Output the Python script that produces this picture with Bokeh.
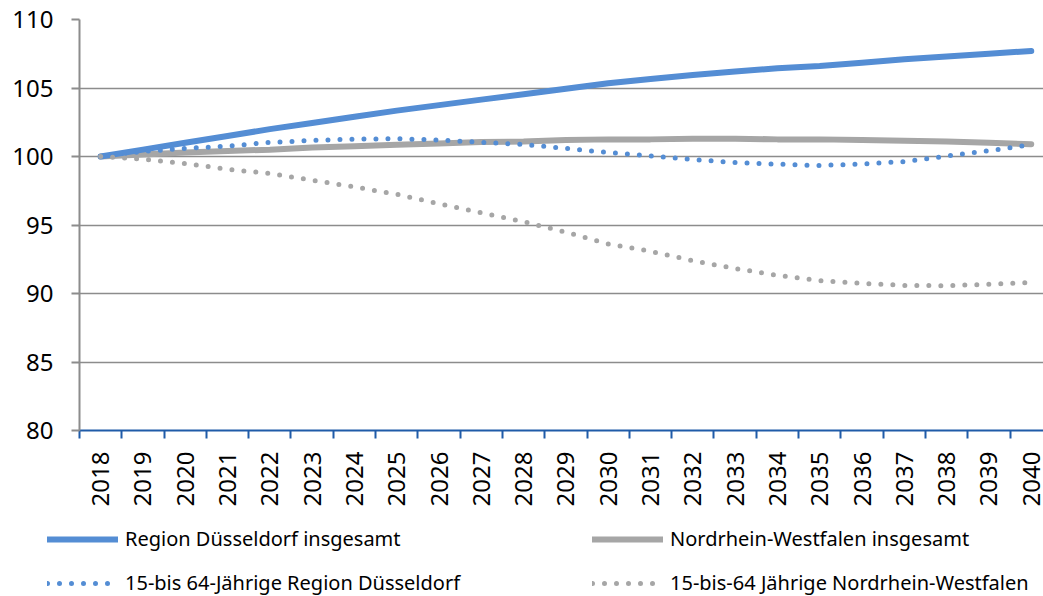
import math
from bokeh.plotting import figure
from bokeh.layouts import column
from bokeh.models import Range1d, FixedTicker, Legend, LegendItem
from bokeh.embed import file_html
from bokeh.resources import INLINE

years = [str(y) for y in range(2018, 2041)]
region_total = [100.0, 100.5, 101.0, 101.5, 102.0, 102.45, 102.9, 103.35, 103.75, 104.15, 104.55,
                104.95, 105.35, 105.65, 105.95, 106.2, 106.45, 106.6, 106.85, 107.1, 107.3, 107.5, 107.7]
nrw_total = [100.0, 100.15, 100.3, 100.4, 100.5, 100.65, 100.75, 100.85, 100.95, 101.05, 101.1,
             101.2, 101.25, 101.25, 101.3, 101.3, 101.25, 101.25, 101.2, 101.15, 101.1, 101.0, 100.9]
region_1564 = [100.0, 100.37, 100.59, 100.76, 101.03, 101.17, 101.27, 101.3, 101.2, 101.03, 100.88,
               100.59, 100.29, 100.05, 99.78, 99.56, 99.44, 99.34, 99.46, 99.63, 100.03, 100.42, 100.86]
nrw_1564 = [100.0, 99.81, 99.49, 99.07, 98.76, 98.27, 97.78, 97.24, 96.55, 95.9, 95.24,
            94.48, 93.62, 93.08, 92.4, 91.82, 91.33, 90.94, 90.74, 90.59, 90.57, 90.67, 90.8]
labels = ["Region Düsseldorf insgesamt", "Nordrhein-Westfalen insgesamt",
          "15-bis 64-Jährige Region Düsseldorf", "15-bis-64 Jährige Nordrhein-Westfalen"]
y_ticks = [80, 85, 90, 95, 100, 105, 110]

BLUE = "#548DD4"
GREY = "#A6A6A6"
FONT = "Noto Sans"

xs = list(range(len(years)))

styles = {
    "region_total": dict(line_color=BLUE, line_width=6, line_cap="round"),
    "nrw_total": dict(line_color=GREY, line_width=6, line_cap="round"),
    "region_1564": dict(line_color=BLUE, line_width=5, line_cap="round", line_dash="0 12"),
    "nrw_1564": dict(line_color=GREY, line_width=5, line_cap="round", line_dash="0 12"),
}

p = figure(width=1043, height=509, output_backend="svg", toolbar_location=None,
           x_range=Range1d(-0.5, 22.29), y_range=Range1d(80, 110),
           min_border_left=79, min_border_right=0, min_border_top=19, min_border_bottom=77)
p.outline_line_color = None
p.frame_align = False

p.line(xs, nrw_total, **styles["nrw_total"])
p.line(xs, region_total, **styles["region_total"])
p.line(xs, region_1564, **styles["region_1564"])
p.line(xs, nrw_1564, **styles["nrw_1564"])

# x axis
p.xaxis.ticker = FixedTicker(ticks=xs, minor_ticks=[i - 0.5 for i in range(len(years) + 1)])
p.xaxis.major_label_overrides = {i: y for i, y in enumerate(years)}
p.xaxis.major_label_orientation = math.pi / 2
p.xaxis.major_tick_out = 0
p.xaxis.major_tick_in = 0
p.xaxis.minor_tick_out = 8
p.xaxis.minor_tick_in = 0
p.xaxis.minor_tick_line_color = "#1F5BA8"
p.xaxis.minor_tick_line_width = 2
p.xaxis.axis_line_color = "#1F5BA8"
p.xaxis.axis_line_width = 2
p.xaxis.major_label_standoff = 13
p.xaxis.major_label_text_font = FONT
p.xaxis.major_label_text_font_size = "24px"
p.xaxis.major_label_text_color = "black"
p.xgrid.grid_line_color = None

# y axis
p.yaxis.ticker = FixedTicker(ticks=y_ticks)
p.yaxis.minor_tick_line_color = None
p.yaxis.major_tick_out = 8
p.yaxis.major_tick_in = 0
p.yaxis.major_tick_line_color = "#8C8C8C"
p.yaxis.major_tick_line_width = 2
p.yaxis.axis_line_color = "#8C8C8C"
p.yaxis.axis_line_width = 2
p.yaxis.major_label_standoff = 18
p.yaxis.major_label_text_font = FONT
p.yaxis.major_label_text_font_size = "24px"
p.yaxis.major_label_text_color = "black"
p.ygrid.grid_line_color = "#8C8C8C"
p.ygrid.grid_line_width = 1.5

# legend figure
lg = figure(width=1043, height=87, output_backend="svg", toolbar_location=None,
            x_range=Range1d(0, 1), y_range=Range1d(0, 1),
            x_axis_location=None, y_axis_location=None,
            min_border_left=0, min_border_right=0, min_border_top=0, min_border_bottom=0)
lg.frame_align = False
lg.outline_line_color = None
lg.xgrid.grid_line_color = None
lg.ygrid.grid_line_color = None
nan = float("nan")
d_rt = lg.line([0, 1], [nan, nan], **styles["region_total"])
d_nt = lg.line([0, 1], [nan, nan], **styles["nrw_total"])
d_r1 = lg.line([0, 1], [nan, nan], **styles["region_1564"])
d_n1 = lg.line([0, 1], [nan, nan], **styles["nrw_1564"])

common = dict(orientation="vertical", glyph_width=71, glyph_height=20,
              label_standoff=7, label_height=20, spacing=17,
              padding=0, margin=0, border_line_color=None, background_fill_alpha=0,
              label_text_font=FONT, label_text_font_size="20px", label_text_color="black")
legend1 = Legend(items=[LegendItem(label=labels[0], renderers=[d_rt]),
                        LegendItem(label=labels[2], renderers=[d_r1])],
                 location=(47, 0), **common)
legend2 = Legend(items=[LegendItem(label=labels[1], renderers=[d_nt]),
                        LegendItem(label=labels[3], renderers=[d_n1])],
                 location=(592, 0), **common)
lg.add_layout(legend1)
lg.add_layout(legend2)

layout = column(p, lg, spacing=0)
open("out.html", "w").write(file_html(layout, INLINE))
